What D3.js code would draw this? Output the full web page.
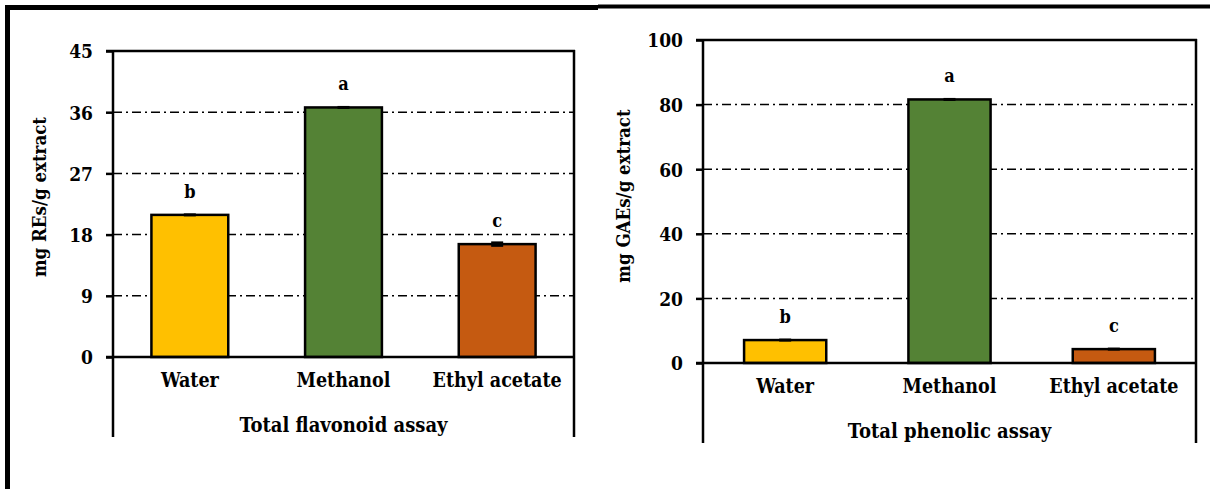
<!DOCTYPE html>
<html>
  <head>
    <meta charset="utf-8">
    <style>
    body { margin: 0; background: #fff; }
    text {
      font-family: "DejaVu Serif Condensed", "DejaVu Serif", serif;
      font-stretch: condensed;
      font-weight: bold;
      fill: #000;
    }
    .grid line {
      stroke: #000;
      stroke-width: 1.5px;
      stroke-dasharray: 9,4,2,4;
    }
    .bar {
      stroke: #000;
      stroke-width: 2.5px;
    }
    </style>
  </head>
  <body>
    <script src="https://d3js.org/d3.v7.min.js"></script>
    <script>

    var extracts = ["Water", "Methanol", "Ethyl acetate"];
    var barColors = ["#FFC000", "#548235", "#C55A11"];

    // total flavonoid (mg REs/g extract)
    var flavValues = [20.9, 36.7, 16.6];
    var flavErrors = [0.15, 0.15, 0.4];
    var flavLetters = ["b", "a", "c"];
    var flavTicks = [0, 9, 18, 27, 36, 45];

    // total phenolic (mg GAEs/g extract)
    var phenValues = [7.1, 81.6, 4.3];
    var phenErrors = [0.25, 0.3, 0.25];
    var phenLetters = ["b", "a", "c"];
    var phenTicks = [0, 20, 40, 60, 80, 100];

    var fontFam = "'DejaVu Serif Condensed', 'DejaVu Serif', serif";

    var svg = d3.select("body").append("svg")
        .attr("width", 1210)
        .attr("height", 489);

    // outer frame pieces
    svg.append("path")
        .attr("d", "M7.5,489 L7.5,7.5 L598,7.5")
        .attr("fill", "none")
        .attr("stroke", "#000")
        .attr("stroke-width", 5);
    svg.append("line")
        .attr("x1", 598).attr("x2", 1210)
        .attr("y1", 6.5).attr("y2", 6.5)
        .attr("stroke", "#000")
        .attr("stroke-width", 4);

    function drawChart(opt) {
      var g = svg.append("g");

      var x = d3.scaleBand()
          .domain(extracts)
          .range([opt.left, opt.right])
          .paddingInner(0.5)
          .paddingOuter(0.25);

      var y = d3.scaleLinear()
          .domain([0, opt.ticks[opt.ticks.length - 1]])
          .range([opt.bottom, opt.top]);

      // dash-dot gridlines
      g.append("g")
          .attr("class", "grid")
        .selectAll("line")
        .data(opt.ticks.slice(1, -1))
        .enter().append("line")
          .attr("x1", opt.left)
          .attr("x2", opt.right)
          .attr("y1", function(d) { return y(d); })
          .attr("y2", function(d) { return y(d); });

      // bars
      g.selectAll("rect.bar")
        .data(opt.values)
        .enter().append("rect")
          .attr("class", "bar")
          .attr("x", function(d, i) { return x(extracts[i]); })
          .attr("width", x.bandwidth())
          .attr("y", function(d) { return y(d); })
          .attr("height", function(d) { return opt.bottom - y(d); })
          .attr("fill", function(d, i) { return barColors[i]; });

      // error bars
      g.selectAll("rect.err")
        .data(opt.values)
        .enter().append("rect")
          .attr("class", "err")
          .attr("x", function(d, i) { return x(extracts[i]) + x.bandwidth() / 2 - 6; })
          .attr("width", 12)
          .attr("y", function(d, i) { return Math.min(y(d + opt.errors[i]), y(d) - 1.5); })
          .attr("height", function(d, i) { return Math.max(y(d - opt.errors[i]) - y(d + opt.errors[i]), 3); })
          .attr("fill", "#000");

      // significance letters
      g.selectAll("text.letter")
        .data(opt.values)
        .enter().append("text")
          .attr("class", "letter")
          .attr("x", function(d, i) { return x(extracts[i]) + x.bandwidth() / 2; })
          .attr("y", function(d) { return y(d) - 17; })
          .attr("text-anchor", "middle")
          .style("font-size", "18px")
          .text(function(d, i) { return opt.letters[i]; });

      // y axis
      var yAxis = d3.axisLeft(y)
          .tickValues(opt.ticks)
          .tickSize(7)
          .tickPadding(13);
      var ya = g.append("g")
          .attr("transform", "translate(" + opt.left + ",0)")
          .call(yAxis);
      ya.select(".domain").remove();
      ya.selectAll(".tick line").attr("stroke", "#000").attr("stroke-width", 2.5);
      ya.selectAll(".tick text")
          .style("font-size", "19px")
          .style("font-family", fontFam)
          .attr("dy", "0.36em");

      // x axis (labels only)
      var xa = g.append("g")
          .attr("transform", "translate(0," + opt.bottom + ")")
          .call(d3.axisBottom(x).tickSize(0).tickPadding(16));
      xa.select(".domain").remove();
      xa.selectAll(".tick text")
          .style("font-size", "19.5px")
          .style("font-family", fontFam);

      // frame lines
      var lw = 2.5;
      g.append("line")
          .attr("x1", opt.left).attr("x2", opt.left)
          .attr("y1", opt.top - 1).attr("y2", opt.base)
          .attr("stroke", "#000").attr("stroke-width", lw);
      g.append("line")
          .attr("x1", opt.right).attr("x2", opt.right)
          .attr("y1", opt.top - 1).attr("y2", opt.base)
          .attr("stroke", "#000").attr("stroke-width", lw);
      g.append("line")
          .attr("x1", opt.left - 7).attr("x2", opt.right + 1)
          .attr("y1", opt.top).attr("y2", opt.top)
          .attr("stroke", "#000").attr("stroke-width", lw);
      g.append("line")
          .attr("x1", opt.left - 7).attr("x2", opt.right + 1)
          .attr("y1", opt.bottom).attr("y2", opt.bottom)
          .attr("stroke", "#000").attr("stroke-width", lw);

      // titles
      g.append("text")
          .attr("x", (opt.left + opt.right) / 2)
          .attr("y", opt.bottom + 75)
          .attr("text-anchor", "middle")
          .style("font-size", "20px")
          .text(opt.xTitle);

      g.append("text")
          .attr("transform", "translate(" + opt.yTitleX + "," + opt.yTitleY + ") rotate(-90)")
          .attr("text-anchor", "middle")
          .style("font-size", "18.5px")
          .text(opt.yTitle);
    }

    drawChart({
      left: 113, right: 574, top: 51, bottom: 357, base: 437,
      values: flavValues, errors: flavErrors, letters: flavLetters, ticks: flavTicks,
      xTitle: "Total flavonoid assay", yTitle: "mg REs/g extract",
      yTitleX: 46, yTitleY: 197
    });

    drawChart({
      left: 703, right: 1196, top: 40, bottom: 363, base: 443,
      values: phenValues, errors: phenErrors, letters: phenLetters, ticks: phenTicks,
      xTitle: "Total phenolic assay", yTitle: "mg GAEs/g extract",
      yTitleX: 630, yTitleY: 196
    });

    </script>
  </body>
</html>
